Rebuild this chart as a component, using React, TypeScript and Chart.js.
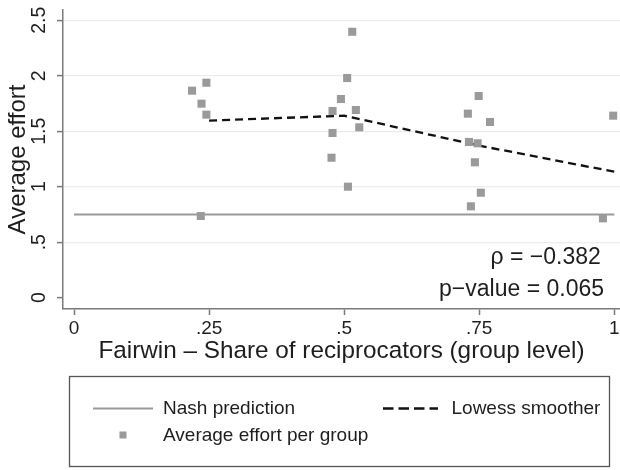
import React, { useEffect, useRef } from "react";
import { Chart, registerables } from "chart.js";

Chart.register(...registerables);

// ---- data ----
const xTicks = [0, 0.25, 0.5, 0.75, 1];
const xTickLabels = ["0", ".25", ".5", ".75", "1"];
const yTicks = [0, 0.5, 1, 1.5, 2, 2.5];
const yTickLabels = ["0", ".5", "1", "1.5", "2", "2.5"];

const groupShare = [
  0.2185, 0.245, 0.236, 0.245, 0.2346,
  0.515, 0.5056, 0.494, 0.4785, 0.5217, 0.528, 0.4785, 0.4766, 0.507,
  0.749, 0.729, 0.77, 0.731, 0.747, 0.742, 0.753, 0.7346,
  0.998, 0.979,
];
const groupEffort = [
  1.865, 1.937, 1.748, 1.649, 0.736,
  2.396, 1.979, 1.79, 1.682, 1.691, 1.535, 1.484, 1.261, 1.0,
  1.817, 1.658, 1.583, 1.403, 1.391, 1.22, 0.946, 0.823,
  1.64, 0.715,
];
const lowessX = [0.25, 0.5, 0.75, 1];
const lowessY = [1.595, 1.64, 1.37, 1.135];
const nashX = [0, 1];
const nashY = [0.75, 0.75];

const seriesNames = ["Average effort per group", "Lowess smoother", "Nash prediction"];
const annotTexts = ["\u03c1 = \u22120.382", "p\u2212value = 0.065"];
const annotX = [0.975, 0.981];
const annotY = [0.365, 0.068];

const xTitle = "Fairwin \u2013 Share of reciprocators (group level)";
const yTitle = "Average effort";

// ---- styles ----
const FONT = '"Liberation Sans", Arial, Helvetica, sans-serif';
const TEXT = "#1e1e1e";
const AXIS = "#7a7a7a";
const GRID = "#ececec";
const MARKER = "#9a9a9a";
const NASH = "#9a9a9a";
const LOWESS = "#111111";

const yTickLabelPlugin = {
  id: "yTickLabelPlugin",
  afterDraw(chart: any) {
    const ctx = chart.ctx;
    const ys = chart.scales.y;
    ctx.save();
    ctx.font = `19.5px ${FONT}`;
    ctx.fillStyle = TEXT;
    ctx.textAlign = "center";
    ctx.textBaseline = "middle";
    yTicks.forEach((v, i) => {
      const py = ys.getPixelForValue(v);
      ctx.save();
      ctx.translate(ys.right - 23.5, py);
      ctx.rotate(-Math.PI / 2);
      ctx.fillText(yTickLabels[i], 0, 0);
      ctx.restore();
    });
    ctx.restore();
  },
};

const annotationPlugin = {
  id: "annotationPlugin",
  afterDraw(chart: any) {
    const ctx = chart.ctx;
    const xs = chart.scales.x;
    const ys = chart.scales.y;
    ctx.save();
    ctx.font = `23px ${FONT}`;
    ctx.fillStyle = TEXT;
    ctx.textAlign = "right";
    ctx.textBaseline = "middle";
    annotTexts.forEach((t, i) => {
      ctx.fillText(t, xs.getPixelForValue(annotX[i]), ys.getPixelForValue(annotY[i]));
    });
    ctx.restore();
  },
};

const legendPlugin = {
  id: "boxLegend",
  afterDraw(chart: any) {
    const ctx = chart.ctx;
    const ds = chart.data.datasets;
    ctx.save();
    // box
    ctx.strokeStyle = "#555555";
    ctx.lineWidth = 1.3;
    ctx.strokeRect(69.5, 376.5, 540, 90);
    ctx.font = `19px ${FONT}`;
    ctx.fillStyle = TEXT;
    ctx.textAlign = "left";
    ctx.textBaseline = "middle";
    // Nash prediction
    const nash = ds[2];
    ctx.strokeStyle = nash.borderColor;
    ctx.lineWidth = nash.borderWidth;
    ctx.beginPath();
    ctx.moveTo(93, 408.5);
    ctx.lineTo(153, 408.5);
    ctx.stroke();
    ctx.fillText(nash.label, 163, 408.5);
    // Lowess
    const low = ds[1];
    ctx.strokeStyle = low.borderColor;
    ctx.lineWidth = low.borderWidth;
    ctx.setLineDash([10.5, 5]);
    ctx.beginPath();
    ctx.moveTo(383, 408.5);
    ctx.lineTo(438, 408.5);
    ctx.stroke();
    ctx.setLineDash([]);
    ctx.fillText(low.label, 451.5, 408.5);
    // markers
    const sc = ds[0];
    ctx.fillStyle = sc.backgroundColor;
    ctx.fillRect(119.5, 431.5, 7, 7);
    ctx.fillStyle = TEXT;
    ctx.fillText(sc.label, 163, 435.5);
    ctx.restore();
  },
};

export default function App() {
  const ref = useRef<HTMLCanvasElement | null>(null);

  useEffect(() => {
    if (!ref.current) return;
    Chart.defaults.font.family = FONT;
    const chart = new Chart(ref.current, {
      type: "scatter",
      data: {
        datasets: [
          {
            label: seriesNames[0],
            data: groupShare.map((x, i) => ({ x, y: groupEffort[i] })),
            pointStyle: "rect",
            pointRadius: 5.7,
            pointBorderWidth: 0,
            backgroundColor: MARKER,
            borderColor: MARKER,
            showLine: false,
          },
          {
            label: seriesNames[1],
            data: lowessX.map((x, i) => ({ x, y: lowessY[i] })),
            showLine: true,
            borderColor: LOWESS,
            borderWidth: 2.3,
            borderDash: [8, 5],
            pointRadius: 0,
            fill: false,
          },
          {
            label: seriesNames[2],
            data: nashX.map((x, i) => ({ x, y: nashY[i] })),
            showLine: true,
            borderColor: NASH,
            borderWidth: 2,
            pointRadius: 0,
            fill: false,
          },
        ],
      },
      options: {
        animation: false,
        responsive: false,
        layout: { autoPadding: false, padding: { top: 10, left: 0, right: 0, bottom: 0 } },
        plugins: {
          legend: { display: false },
          tooltip: { enabled: false },
        },
        scales: {
          x: {
            type: "linear",
            min: -0.0204,
            max: 1.0106,
            afterBuildTicks: (s: any) => {
              s.ticks = xTicks.map((v) => ({ value: v }));
            },
            ticks: {
              autoSkip: false,
              maxRotation: 0,
              minRotation: 0,
              padding: 2,
              color: TEXT,
              font: { size: 19, family: FONT },
              callback: (_v: any, i: number) => xTickLabels[i],
            },
            grid: {
              drawOnChartArea: false,
              drawTicks: true,
              tickLength: 6,
              tickColor: AXIS,
              tickWidth: 1.5,
            },
            border: { color: AXIS, width: 1.5 },
            title: {
              display: true,
              text: xTitle,
              color: TEXT,
              font: { size: 24.3, family: FONT },
              padding: { top: 0, bottom: 104.6 },
            },
            afterFit: (s: any) => {
              s.height = 161;
              s.paddingLeft = 0;
              s.paddingRight = 0;
              if (s._margins) {
                s._margins.right = 0;
              }
            },
          },
          y: {
            type: "linear",
            min: -0.102,
            max: 2.592,
            afterBuildTicks: (s: any) => {
              s.ticks = yTicks.map((v) => ({ value: v }));
            },
            ticks: { display: false },
            grid: {
              color: (c: any) => (c.tick && c.tick.value === 0 ? "rgba(0,0,0,0)" : GRID),
              lineWidth: 1.2,
              drawTicks: true,
              tickLength: 6,
              tickColor: AXIS,
              tickWidth: 1.5,
            },
            border: { color: AXIS, width: 1.5 },
            title: {
              display: true,
              text: yTitle,
              color: TEXT,
              font: { size: 24, family: FONT },
              padding: { top: 3.6, bottom: 0 },
            },
            afterFit: (s: any) => {
              s.width = 63;
              s.paddingTop = 0;
              s.paddingBottom = 0;
            },
          },
        },
      },
      plugins: [yTickLabelPlugin, annotationPlugin, legendPlugin],
    } as any);
    return () => chart.destroy();
  }, []);

  return (
    <div style={{ position: "absolute", left: 0, top: 0, width: 620, height: 470 }}>
      <canvas ref={ref} width={620} height={470} style={{ display: "block" }} />
    </div>
  );
}
